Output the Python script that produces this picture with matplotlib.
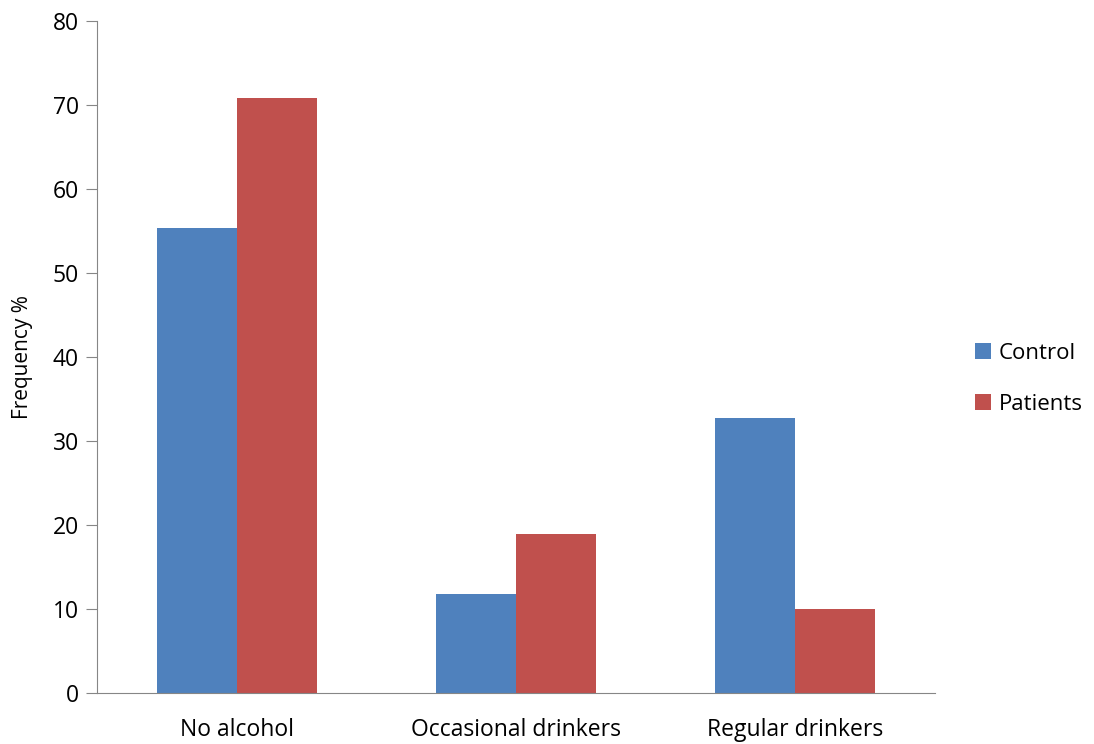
"""
Grouped bar chart: alcohol consumption frequency, control vs patients
"""

from matplotlib import pyplot

OUTPUT_FILENAME = 'out.png'
IMAGE_DPI = 100

categories = ['No alcohol', 'Occasional drinkers', 'Regular drinkers']
control = [55.4, 11.8, 32.7]
patients = [70.8, 18.9, 10.0]
series_names = ['Control', 'Patients']
y_ticks = [0, 10, 20, 30, 40, 50, 60, 70, 80]

BLUE = '#4F81BD'
RED = '#C0504D'
AXIS_GREY = '#868686'


def main():
    pyplot.rcParams['font.family'] = ['Open Sans', 'DejaVu Sans']
    fig = pyplot.figure(figsize=(10.94, 7.44), dpi=IMAGE_DPI)
    ax = fig.add_axes([0.0887, 0.0685, 0.766, 0.9033])

    width = 0.286
    positions = range(len(categories))
    ax.bar([p - width / 2 for p in positions], control, width, color=BLUE,
           label=series_names[0])
    ax.bar([p + width / 2 for p in positions], patients, width, color=RED,
           label=series_names[1])

    ax.set_xlim(-0.5, len(categories) - 0.5)
    ax.set_ylim(0, 80)
    ax.set_yticks(y_ticks)
    ax.set_xticks(list(positions))
    ax.set_xticklabels(categories)
    ax.tick_params(axis='y', labelsize=16.5, length=8, color=AXIS_GREY, pad=5)
    ax.tick_params(axis='x', labelsize=16.5, length=0, pad=18)
    ax.set_ylabel('Frequency %', fontsize=15, labelpad=14)

    for side in ('top', 'right'):
        ax.spines[side].set_visible(False)
    for side in ('left', 'bottom'):
        ax.spines[side].set_color(AXIS_GREY)

    ax.legend(loc='center left', bbox_to_anchor=(1.024, 0.468), frameon=False,
              fontsize=16, handlelength=0.7, handleheight=0.7,
              handletextpad=0.35, labelspacing=1.35)

    fig.savefig(OUTPUT_FILENAME, dpi=IMAGE_DPI)


if __name__ == '__main__':
    main()
